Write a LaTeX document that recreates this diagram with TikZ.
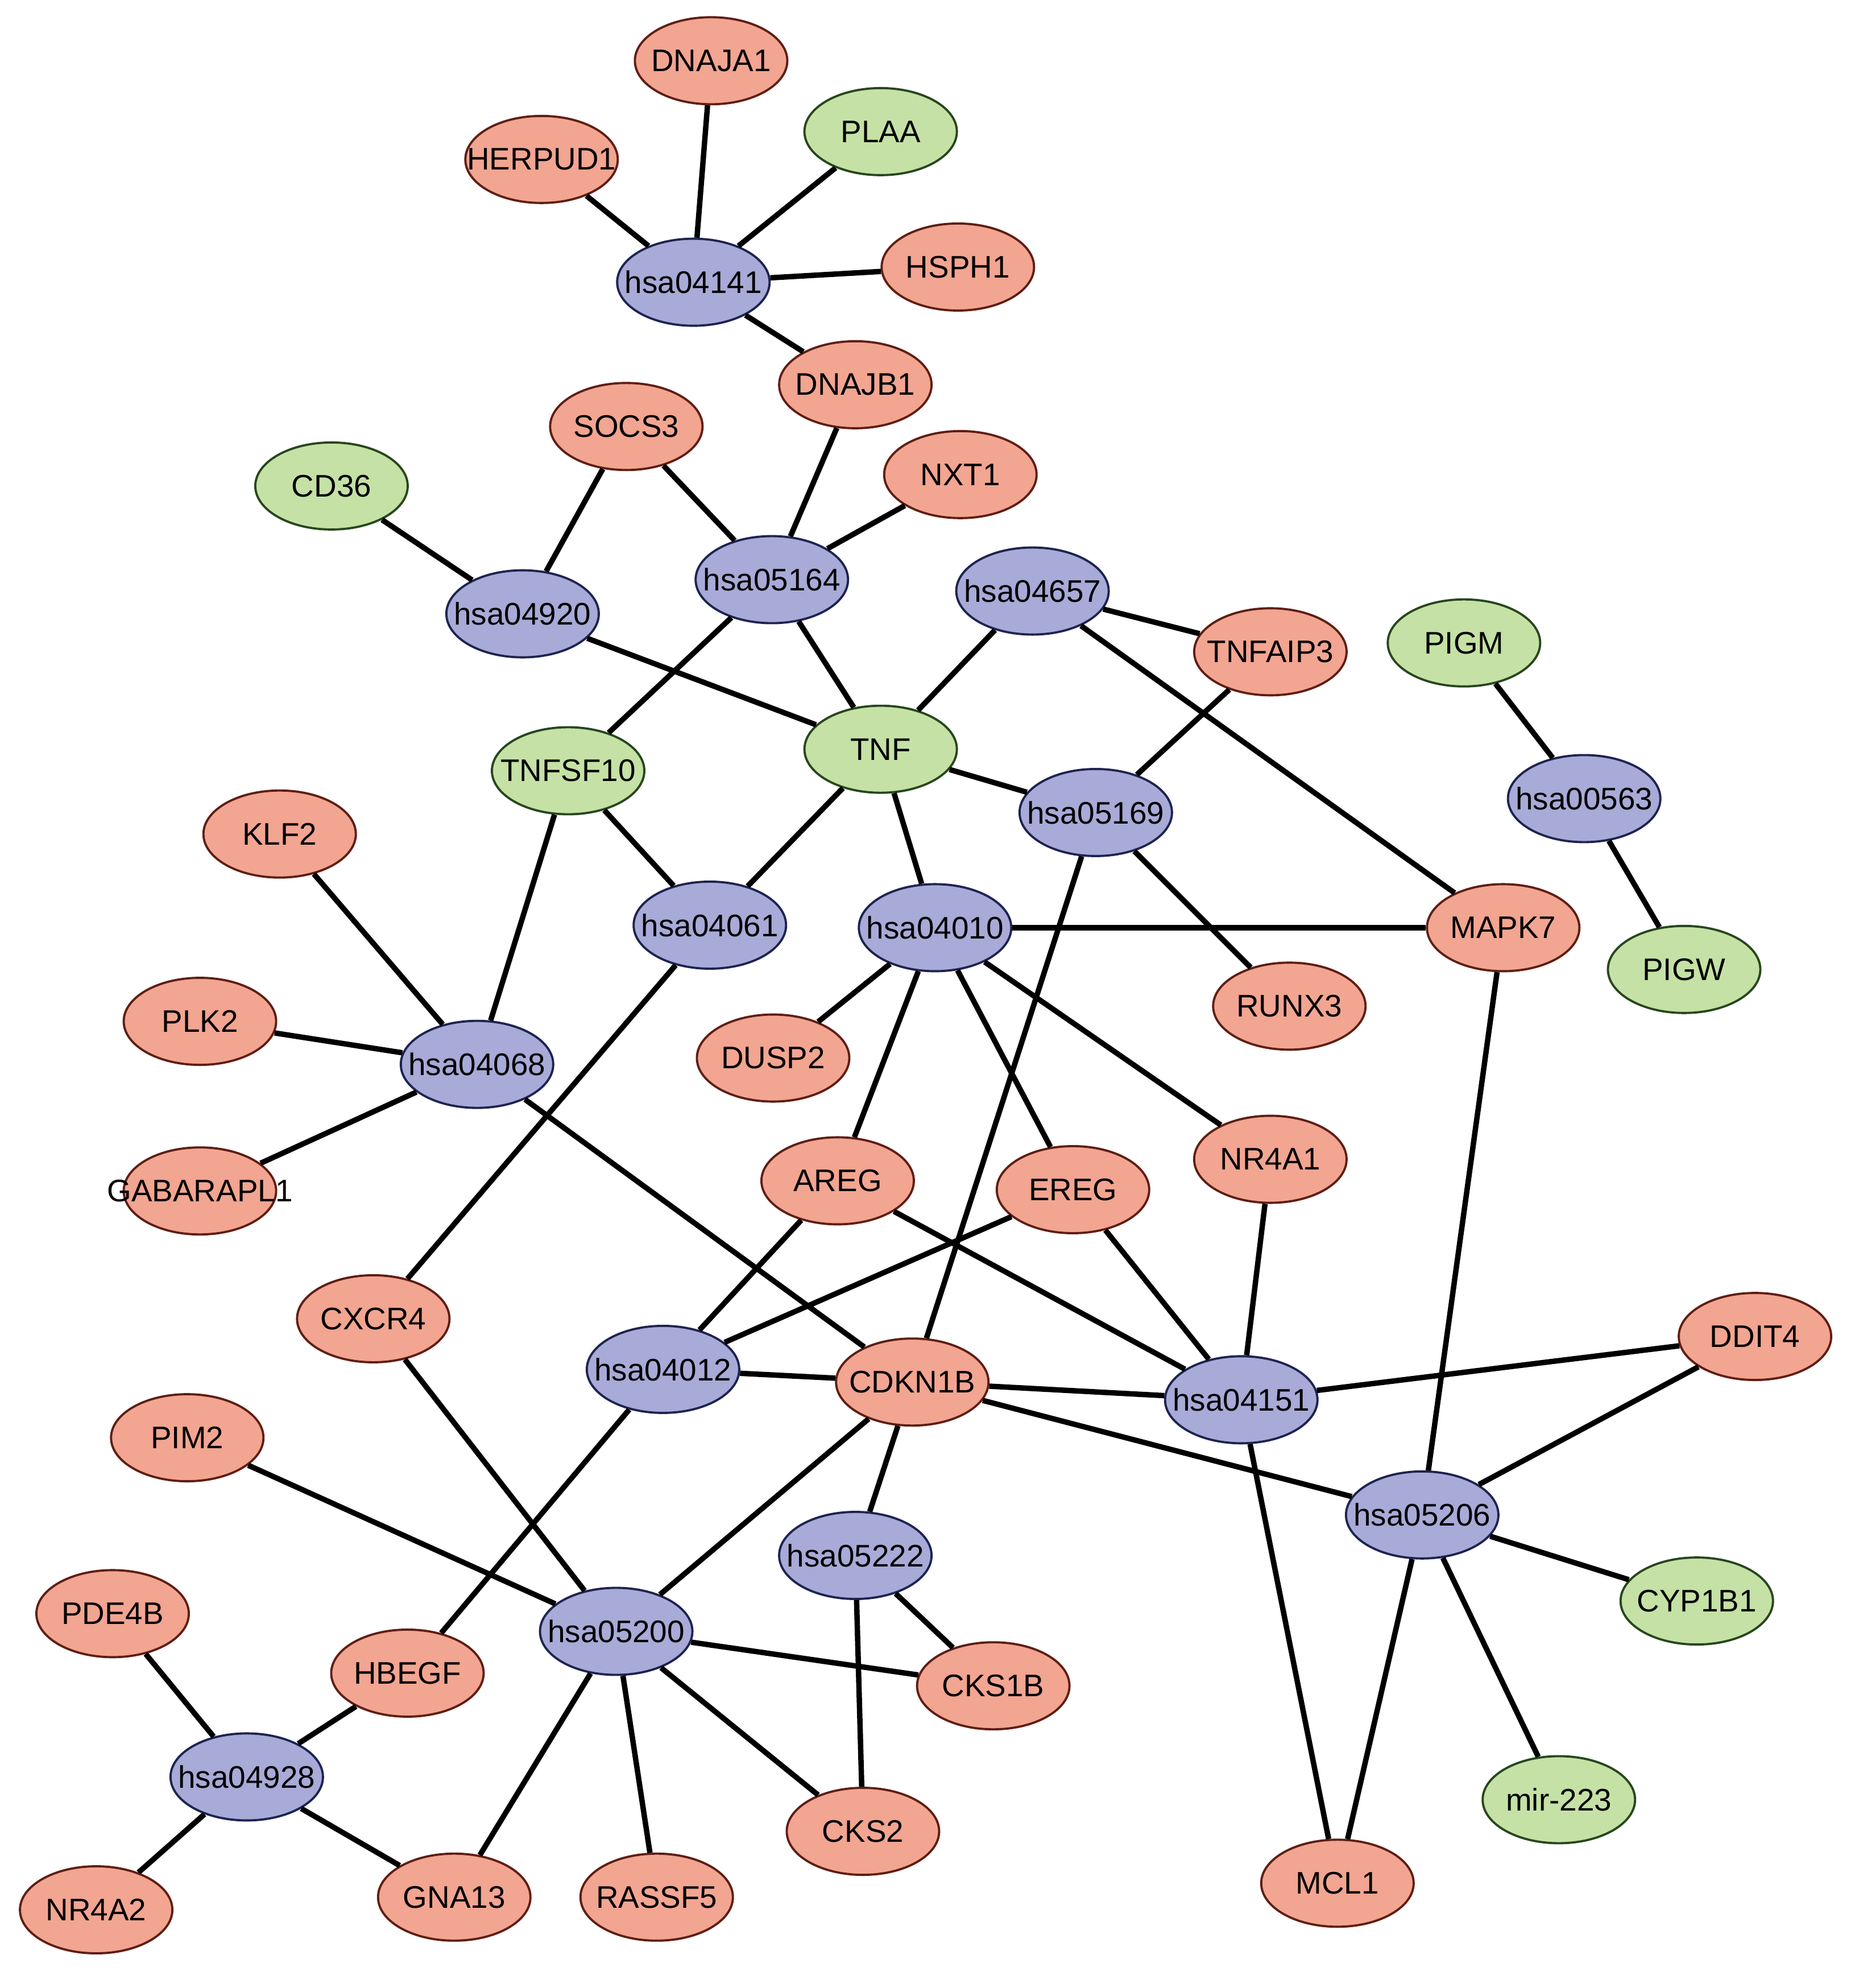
\documentclass[tikz,border=0pt]{standalone}
\usepackage{fontspec}
\setmainfont{Liberation Sans}
\usetikzlibrary{shapes.geometric}
\definecolor{redfill}{RGB}{242,165,145}
\definecolor{reddraw}{RGB}{95,30,20}
\definecolor{greenfill}{RGB}{197,225,165}
\definecolor{greendraw}{RGB}{40,70,30}
\definecolor{bluefill}{RGB}{168,170,215}
\definecolor{bluedraw}{RGB}{30,35,80}
\newcommand\ctext[1]{\makebox[0pt]{#1}}
\tikzset{
  base/.style={ellipse, minimum width=2.68cm, minimum height=1.53cm, inner sep=0pt,
    line width=1.1pt, font=\fontsize{15.6}{18}\selectfont},
  rednode/.style={base, fill=redfill, draw=reddraw},
  greennode/.style={base, fill=greenfill, draw=greendraw},
  bluenode/.style={base, fill=bluefill, draw=bluedraw},
  edge/.style={line width=2.7pt, black}
}
\begin{document}
\begin{tikzpicture}[x=0.02225cm,y=-0.02225cm]
\useasboundingbox (0,0) rectangle (1469.2,1570.8);
% nodes
\node[rednode]   (DNAJA1)   at (562,48)   {\ctext{DNAJA1}};
\node[rednode]   (HERPUD1)  at (428,126)  {\ctext{HERPUD1}};
\node[greennode] (PLAA)     at (696,104)  {\ctext{PLAA}};
\node[rednode]   (HSPH1)    at (757,211)  {\ctext{HSPH1}};
\node[bluenode]  (h04141)   at (548,223)  {\ctext{hsa04141}};
\node[rednode]   (DNAJB1)   at (676,304)  {\ctext{DNAJB1}};
\node[rednode]   (SOCS3)    at (495,337)  {\ctext{SOCS3}};
\node[rednode]   (NXT1)     at (759,375)  {\ctext{NXT1}};
\node[greennode] (CD36)     at (262,384)  {\ctext{CD36}};
\node[bluenode]  (h05164)   at (610,458)  {\ctext{hsa05164}};
\node[bluenode]  (h04920)   at (413,485)  {\ctext{hsa04920}};
\node[bluenode]  (h04657)   at (816,467)  {\ctext{hsa04657}};
\node[rednode]   (TNFAIP3)  at (1004,515) {\ctext{TNFAIP3}};
\node[greennode] (PIGM)     at (1157,508) {\ctext{PIGM}};
\node[greennode] (TNF)      at (696,592)  {\ctext{TNF}};
\node[greennode] (TNFSF10)  at (449,609)  {\ctext{TNFSF10}};
\node[bluenode]  (h05169)   at (866,642)  {\ctext{hsa05169}};
\node[bluenode]  (h00563)   at (1252,631) {\ctext{hsa00563}};
\node[rednode]   (KLF2)     at (221,659)  {\ctext{KLF2}};
\node[bluenode]  (h04061)   at (561,731)  {\ctext{hsa04061}};
\node[bluenode]  (h04010)   at (739,733)  {\ctext{hsa04010}};
\node[rednode]   (MAPK7)    at (1188,733) {\ctext{MAPK7}};
\node[greennode] (PIGW)     at (1331,766) {\ctext{PIGW}};
\node[rednode]   (RUNX3)    at (1019,795) {\ctext{RUNX3}};
\node[rednode]   (PLK2)     at (158,807)  {\ctext{PLK2}};
\node[rednode]   (DUSP2)    at (611,836)  {\ctext{DUSP2}};
\node[bluenode]  (h04068)   at (377,841)  {\ctext{hsa04068}};
\node[rednode]   (NR4A1)    at (1004,916) {\ctext{NR4A1}};
\node[rednode]   (AREG)     at (662,933)  {\ctext{AREG}};
\node[rednode]   (EREG)     at (848,940)  {\ctext{EREG}};
\node[rednode]   (GABARAPL1) at (158,941) {\ctext{GABARAPL1}};
\node[rednode]   (CXCR4)    at (295,1042) {\ctext{CXCR4}};
\node[rednode]   (DDIT4)    at (1387,1056) {\ctext{DDIT4}};
\node[bluenode]  (h04012)   at (524,1082) {\ctext{hsa04012}};
\node[rednode]   (CDKN1B)   at (721,1092) {\ctext{CDKN1B}};
\node[bluenode]  (h04151)   at (981,1106) {\ctext{hsa04151}};
\node[rednode]   (PIM2)     at (148,1136) {\ctext{PIM2}};
\node[bluenode]  (h05206)   at (1124,1197) {\ctext{hsa05206}};
\node[bluenode]  (h05222)   at (676,1229) {\ctext{hsa05222}};
\node[greennode] (CYP1B1)   at (1341,1265) {\ctext{CYP1B1}};
\node[rednode]   (PDE4B)    at (89,1275)  {\ctext{PDE4B}};
\node[bluenode]  (h05200)   at (487,1289) {\ctext{hsa05200}};
\node[rednode]   (HBEGF)    at (322,1322) {\ctext{HBEGF}};
\node[rednode]   (CKS1B)    at (785,1332) {\ctext{CKS1B}};
\node[bluenode]  (h04928)   at (195,1404) {\ctext{hsa04928}};
\node[greennode] (mir223)   at (1232,1422) {\ctext{mir-223}};
\node[rednode]   (CKS2)     at (682,1447) {\ctext{CKS2}};
\node[rednode]   (MCL1)     at (1057,1488) {\ctext{MCL1}};
\node[rednode]   (NR4A2)    at (76,1509)  {\ctext{NR4A2}};
\node[rednode]   (GNA13)    at (359,1499) {\ctext{GNA13}};
\node[rednode]   (RASSF5)   at (519,1499) {\ctext{RASSF5}};
% edges
\draw[edge] (h04141) -- (DNAJA1);
\draw[edge] (h04141) -- (HERPUD1);
\draw[edge] (h04141) -- (PLAA);
\draw[edge] (h04141) -- (HSPH1);
\draw[edge] (h04141) -- (DNAJB1);
\draw[edge] (h05164) -- (DNAJB1);
\draw[edge] (h05164) -- (SOCS3);
\draw[edge] (h05164) -- (NXT1);
\draw[edge] (h05164) -- (TNF);
\draw[edge] (h05164) -- (TNFSF10);
\draw[edge] (h04920) -- (CD36);
\draw[edge] (h04920) -- (SOCS3);
\draw[edge] (h04920) -- (TNF);
\draw[edge] (h04657) -- (TNF);
\draw[edge] (h04657) -- (TNFAIP3);
\draw[edge] (h04657) -- (MAPK7);
\draw[edge] (h05169) -- (TNF);
\draw[edge] (h05169) -- (TNFAIP3);
\draw[edge] (h05169) -- (RUNX3);
\draw[edge] (h05169) -- (CDKN1B);
\draw[edge] (TNF) -- (h04061);
\draw[edge] (TNF) -- (h04010);
\draw[edge] (h00563) -- (PIGM);
\draw[edge] (h00563) -- (PIGW);
\draw[edge] (TNFSF10) -- (h04061);
\draw[edge] (TNFSF10) -- (h04068);
\draw[edge] (h04061) -- (CXCR4);
\draw[edge] (h04010) -- (MAPK7);
\draw[edge] (h04010) -- (DUSP2);
\draw[edge] (h04010) -- (AREG);
\draw[edge] (h04010) -- (EREG);
\draw[edge] (h04010) -- (NR4A1);
\draw[edge] (h04068) -- (KLF2);
\draw[edge] (h04068) -- (PLK2);
\draw[edge] (h04068) -- (GABARAPL1);
\draw[edge] (h04068) -- (CDKN1B);
\draw[edge] (MAPK7) -- (h05206);
\draw[edge] (AREG) -- (h04151);
\draw[edge] (AREG) -- (h04012);
\draw[edge] (EREG) -- (h04012);
\draw[edge] (EREG) -- (h04151);
\draw[edge] (NR4A1) -- (h04151);
\draw[edge] (CXCR4) -- (h05200);
\draw[edge] (h04012) -- (CDKN1B);
\draw[edge] (h04012) -- (HBEGF);
\draw[edge] (CDKN1B) -- (h04151);
\draw[edge] (CDKN1B) -- (h05206);
\draw[edge] (CDKN1B) -- (h05200);
\draw[edge] (CDKN1B) -- (h05222);
\draw[edge] (h04151) -- (DDIT4);
\draw[edge] (h04151) -- (MCL1);
\draw[edge] (h05206) -- (DDIT4);
\draw[edge] (h05206) -- (CYP1B1);
\draw[edge] (h05206) -- (mir223);
\draw[edge] (h05206) -- (MCL1);
\draw[edge] (PIM2) -- (h05200);
\draw[edge] (h05222) -- (CKS1B);
\draw[edge] (h05222) -- (CKS2);
\draw[edge] (h05200) -- (CKS1B);
\draw[edge] (h05200) -- (CKS2);
\draw[edge] (h05200) -- (RASSF5);
\draw[edge] (h05200) -- (GNA13);
\draw[edge] (h04928) -- (PDE4B);
\draw[edge] (h04928) -- (HBEGF);
\draw[edge] (h04928) -- (NR4A2);
\draw[edge] (h04928) -- (GNA13);
\end{tikzpicture}
\end{document}
